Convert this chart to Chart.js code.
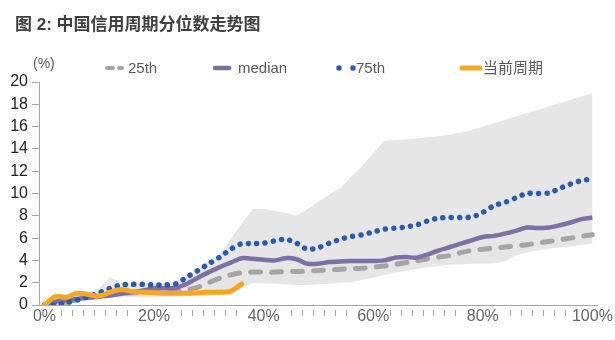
<!DOCTYPE html>
<html>
<head>
<meta charset="utf-8">
<script src="https://cdn.jsdelivr.net/npm/chart.js@4.4.0/dist/chart.umd.min.js"></script>
<style>
  html, body { margin: 0; padding: 0; background: #fff; }
  #wrap { position: relative; width: 615px; height: 340px; }
  #title { position: absolute; left: 15px; top: 10px; font: bold 17px "Liberation Sans", "Noto Sans CJK SC", sans-serif; color: #404040; white-space: nowrap; }
  canvas { position: absolute; left: 0; top: 0; }
</style>
</head>
<body>
<div id="wrap">
  <canvas id="chart" width="615" height="340" style="width:615px;height:340px"></canvas>
  <div id="title">图 2: 中国信用周期分位数走势图</div>
</div>
<script>
// x categories: position in the cycle
var categories = ['0%','2%','4%','6%','8%','10%','12%','14%','16%','18%',
  '20%','22%','24%','26%','28%','30%','32%','34%','36%','38%',
  '40%','42%','44%','46%','48%','50%','52%','54%','56%','58%',
  '60%','62%','64%','66%','68%','70%','72%','74%','76%','78%',
  '80%','82%','84%','86%','88%','90%','92%','94%','96%','98%','100%'];

var p25 = [0.0,0.1,0.25,0.5,0.7, 0.85,1.0,1.05,1.1,1.1, 1.15,1.15,1.2,1.35,1.6, 2.0,2.4,2.7,2.9,2.95,
  2.95,2.95,3.0,3.0,3.05, 3.1,3.15,3.2,3.25,3.3, 3.4,3.5,3.65,3.8,3.95, 4.15,4.3,4.45,4.7,4.9,
  5.0,5.1,5.2,5.3,5.4, 5.55,5.7,5.85,6.0,6.15, 6.3];

var median = [0.1,0.3,0.4,0.55,0.65, 0.75,0.85,1.0,1.15,1.3, 1.5,1.5,1.55,1.9,2.45, 2.95,3.4,3.8,4.2,4.15,
  4.05,4.0,4.2,4.1,3.7, 3.7,3.85,3.9,3.95,3.95, 3.95,4.0,4.25,4.3,4.25, 4.55,4.9,5.2,5.5,5.8,
  6.1,6.2,6.4,6.65,6.95, 6.9,6.95,7.15,7.4,7.7, 7.85];

var p75 = [0.0,0.0,0.2,0.45,0.75, 1.1,1.5,1.8,1.85,1.85, 1.8,1.8,1.9,2.5,3.1, 3.7,4.3,5.0,5.5,5.5,
  5.55,5.75,5.9,5.55,5.0, 5.15,5.55,5.9,6.15,6.3, 6.55,6.8,6.9,7.0,7.2, 7.55,7.8,7.85,7.85,7.9,
  8.3,8.9,9.2,9.6,10.0, 10.0,10.05,10.45,10.85,11.15, 11.3];

var current = [0.0,0.75,0.7,1.05,0.95, 0.8,1.15,1.4,1.2,1.15, 1.1,1.05,1.05,1.05,1.1, 1.15,1.15,1.25,1.9];

var bandMax = [0.2,0.8,0.8,1.1,1.15, 1.5,2.5,2.0,2.0,2.0, 2.0,2.0,2.1,2.5,3.2, 3.9,4.6,5.9,7.3,8.6,
  8.6,8.45,8.25,8.0,8.6, 9.25,9.9,10.5,11.5,12.5, 13.6,14.7,14.8,14.85,14.95, 15.05,15.15,15.3,15.45,15.7,
  16.0,16.3,16.6,16.9,17.2, 17.5,17.8,18.1,18.4,18.7, 19.0];

var bandMin = [0.0,0.0,0.1,0.3,0.5, 0.6,0.65,0.7,0.7,0.7, 0.7,0.7,0.75,0.8,0.8, 0.85,0.9,1.0,1.5,1.95,
  1.95,1.9,1.85,1.8,1.8, 1.85,1.9,2.0,2.05,2.25, 2.45,2.7,2.9,3.05,3.25, 3.4,3.5,3.6,3.65,3.7,
  3.72,3.75,3.9,4.45,4.7, 4.9,5.05,5.15,5.25,5.4, 5.5];

var latin = '"Liberation Sans", "Noto Sans CJK SC", sans-serif';

var legendItems = [
  { text: '25th', kind: 'line', x1: 107, x2: 122, color: '#a5a5a5', width: 4, dash: [6, 6], tx: 128 },
  { text: 'median', kind: 'line', x1: 215, x2: 229, color: '#7d70a3', width: 4.5, dash: [], tx: 238 },
  { text: '75th', kind: 'dots', dots: [339, 353], color: '#2a5caa', r: 2.7, tx: 356 },
  { text: '当前周期', kind: 'line', x1: 462, x2: 480, color: '#f7a823', width: 5, dash: [], tx: 483 }
];

var extras = {
  id: 'extras',
  afterDraw: function (chart) {
    var ctx = chart.ctx, xs = chart.scales.x, y0 = xs.top;
    ctx.save();
    // small tick marks between categories, hidden under labels
    ctx.font = '16px ' + latin;
    var boxes = [];
    for (var i = 0; i < categories.length; i += 10) {
      var w = ctx.measureText(categories[i]).width, c = xs.getPixelForValue(i);
      boxes.push([c - w / 2 - 1, c + w / 2 + 1]);
    }
    ctx.strokeStyle = '#a6a6a6';
    ctx.lineWidth = 1;
    for (var k = 0; k <= categories.length; k++) {
      var x = Math.round(xs.getPixelForValue(k - 0.5)) + 0.5;
      if (boxes.some(function (b) { return x > b[0] && x < b[1]; })) continue;
      ctx.beginPath();
      ctx.moveTo(x, y0 + 5);
      ctx.lineTo(x, y0 + 11);
      ctx.stroke();
    }
    // unit label
    ctx.fillStyle = '#595959';
    ctx.font = '14px ' + latin;
    ctx.textBaseline = 'middle';
    ctx.textAlign = 'left';
    ctx.fillText('(%)', 33, 64);
    // legend
    var ly = 68;
    legendItems.forEach(function (it) {
      if (it.kind === 'line') {
        ctx.strokeStyle = it.color;
        ctx.lineWidth = it.width;
        ctx.lineCap = 'round';
        ctx.setLineDash(it.dash);
        ctx.beginPath();
        ctx.moveTo(it.x1, ly);
        ctx.lineTo(it.x2, ly);
        ctx.stroke();
        ctx.setLineDash([]);
      } else {
        ctx.fillStyle = it.color;
        it.dots.forEach(function (dx) {
          ctx.beginPath();
          ctx.arc(dx, ly, it.r, 0, Math.PI * 2);
          ctx.fill();
        });
      }
      ctx.fillStyle = '#595959';
      ctx.font = '15px ' + latin;
      ctx.fillText(it.text, it.tx, ly + 1);
    });
    ctx.restore();
  }
};

var ctx = document.getElementById('chart').getContext('2d');
var chart = new Chart(ctx, {
  type: 'line',
  data: {
    labels: categories,
    datasets: [
      { label: '当前周期', data: current, borderColor: '#f7a823', borderWidth: 5, tension: 0.4,
        borderCapStyle: 'round', borderJoinStyle: 'round', pointRadius: 0, fill: false },
      { label: '75th', data: p75, borderColor: '#2a5caa', borderWidth: 5.5, borderDash: [0.1, 8.3],
        borderCapStyle: 'round', tension: 0.3, pointRadius: 0, fill: false },
      { label: 'median', data: median, borderColor: '#7d70a3', borderWidth: 4.5, tension: 0.3,
        borderJoinStyle: 'round', pointRadius: 0, fill: false },
      { label: '25th', data: p25, borderColor: '#a5a5a5', borderWidth: 5, borderDash: [10, 11],
        borderCapStyle: 'round', tension: 0.3, pointRadius: 0, fill: false },
      { label: 'max', data: bandMax, borderColor: 'rgba(0,0,0,0)', borderWidth: 0, backgroundColor: '#e6e6e6',
        fill: '+1', tension: 0, pointRadius: 0 },
      { label: 'min', data: bandMin, borderColor: 'rgba(0,0,0,0)', borderWidth: 0, fill: false,
        tension: 0, pointRadius: 0 }
    ]
  },
  options: {
    responsive: false,
    animation: false,
    layout: { padding: { left: 0, right: 15, top: 82, bottom: 0 } },
    plugins: { legend: { display: false }, tooltip: { enabled: false } },
    scales: {
      x: {
        type: 'category',
        offset: true,
        grid: { offset: true, drawOnChartArea: false, drawTicks: false },
        border: { color: '#a6a6a6' },
        ticks: {
          autoSkip: false, maxRotation: 0, minRotation: 0, padding: 2,
          color: '#666666', font: { size: 16, family: latin },
          callback: function (v, i) { return i % 10 === 0 ? this.getLabelForValue(v) : ''; }
        },
        afterFit: function (s) { s.height = 35; }
      },
      y: {
        min: 0, max: 20,
        ticks: { stepSize: 2, padding: 4, color: '#1f1f1f', font: { size: 16, family: latin } },
        grid: { drawOnChartArea: false, tickLength: 7, color: '#a6a6a6' },
        border: { color: '#a6a6a6' },
        afterFit: function (s) { s.width = 39; }
      }
    }
  },
  plugins: [extras]
});
</script>
</body>
</html>
